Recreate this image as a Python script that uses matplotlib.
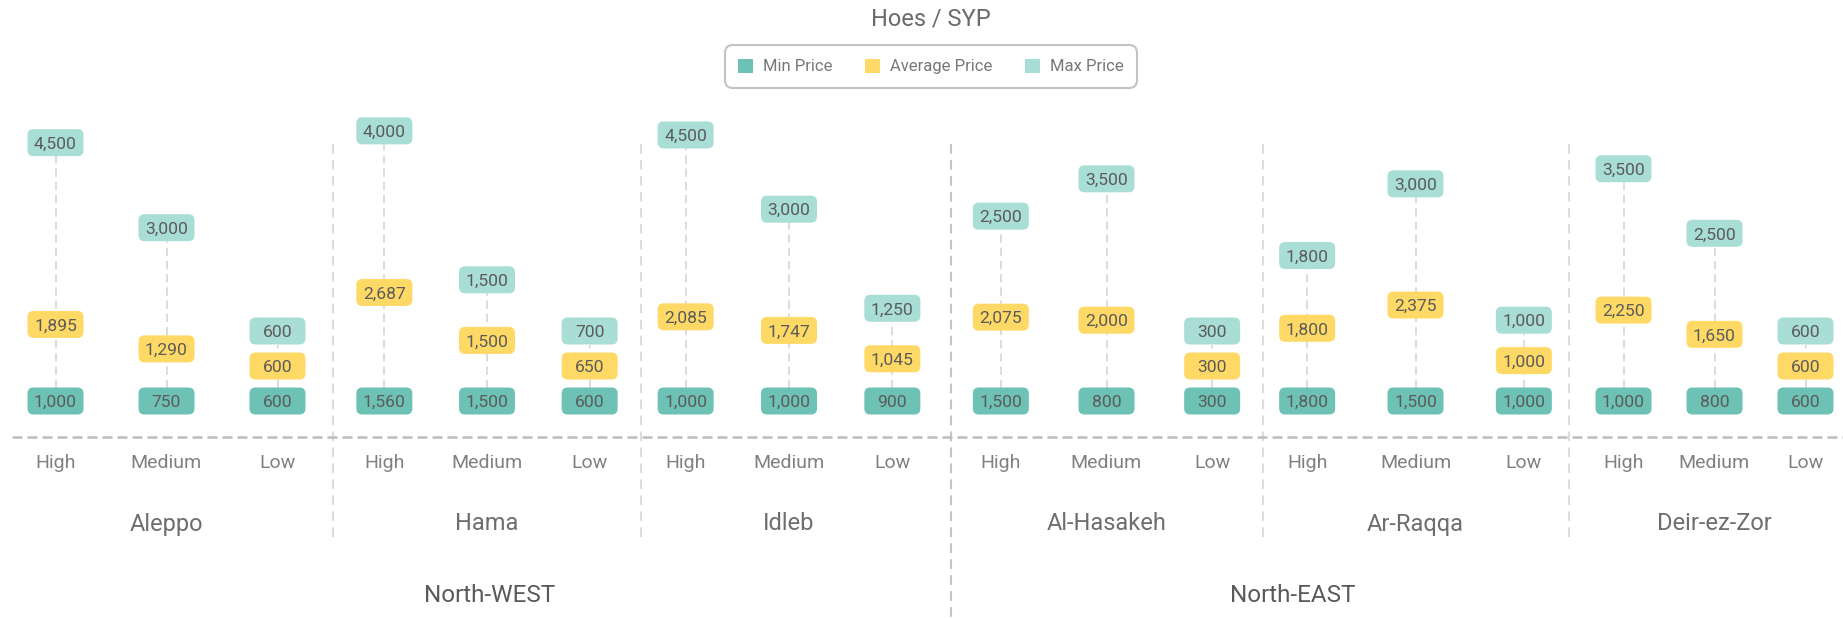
import matplotlib
matplotlib.use('Agg')
import matplotlib.pyplot as plt
from matplotlib.patches import FancyBboxPatch, Patch
from matplotlib.lines import Line2D
from matplotlib.transforms import IdentityTransform, blended_transform_factory

# ---------------- data ----------------
regions = ['Aleppo', 'Hama', 'Idleb', 'Al-Hasakeh', 'Ar-Raqqa', 'Deir-ez-Zor']
levels = ['High', 'Medium', 'Low']
zones = ['North-WEST', 'North-EAST']
min_price = [1000, 750, 600, 1560, 1500, 600, 1000, 1000, 900,
             1500, 800, 300, 1800, 1500, 1000, 1000, 800, 600]
avg_price = [1895, 1290, 600, 2687, 1500, 650, 2085, 1747, 1045,
             2075, 2000, 300, 1800, 2375, 1000, 2250, 1650, 600]
max_price = [4500, 3000, 600, 4000, 1500, 700, 4500, 3000, 1250,
             2500, 3500, 300, 1800, 3000, 1000, 3500, 2500, 600]
series_names = ['Min Price', 'Average Price', 'Max Price']

# ---------------- style ----------------
plt.rcParams['font.family'] = ['Roboto', 'DejaVu Sans']
plt.rcParams['lines.scale_dashes'] = False
C_MIN, C_AVG, C_MAX = '#6dc2b5', '#ffd966', '#a8ded5'
TXT_BOX = '#5b5b5b'

W, H = 1843, 618
fig = plt.figure(figsize=(W / 100, H / 100), dpi=100)


def fx(px):
    return px / W


def fy(py):
    return 1 - py / H


PLOT_TOP, PLOT_BOTTOM = 95, 437
YLIM = (-891, 7574)
region_edges = [(0, 333), (333, 641), (634, 944), (948, 1265), (1253, 1578), (1578, 1851)]

BOX_W, BOX_H, GAP = 56, 27, 35
ident = IdentityTransform()


def draw_box(xd, yd, color, value):
    p = FancyBboxPatch((xd - BOX_W / 2, yd - BOX_H / 2), BOX_W, BOX_H,
                       boxstyle='round,pad=0,rounding_size=6',
                       facecolor=color, edgecolor='none', transform=ident, zorder=2)
    fig.add_artist(p)
    fig.text(xd, yd - 6.1, f'{value:,}', transform=ident, ha='center', va='baseline',
             fontsize=12.6, color=TXT_BOX, zorder=3)


for k, (l, r) in enumerate(region_edges):
    ax = fig.add_axes([fx(l), fy(PLOT_BOTTOM), fx(r - l), (PLOT_BOTTOM - PLOT_TOP) / H])
    ax.set_xlim(-0.5, 2.5)
    ax.set_ylim(*YLIM)
    ax.axis('off')
    blend = blended_transform_factory(ax.transData, fig.transFigure)
    for i, lvl in enumerate(levels):
        idx = 3 * k + i
        mn, av, mx = min_price[idx], avg_price[idx], max_price[idx]
        # invisible stacked bars: average, then max on top of it
        ax.bar(i, av, width=0.5, color='none')
        ax.bar(i, mx, bottom=av, width=0.5, color='none')
        xd, ymin_d = ax.transData.transform((i, 0))
        yavg_d = ax.transData.transform((i, av))[1]
        ymax_d = ax.transData.transform((i, av + mx))[1]
        yavg_d = max(yavg_d, ymin_d + GAP)
        ymax_d = max(ymax_d, yavg_d + GAP)
        fig.add_artist(Line2D([xd, xd], [ymin_d + BOX_H / 2, ymax_d - BOX_H / 2],
                              transform=ident, color='#d9d9d9', lw=1.3,
                              linestyle=(0, (6, 3.5)), zorder=1))
        draw_box(xd, ymin_d, C_MIN, mn)
        draw_box(xd, yavg_d, C_AVG, av)
        draw_box(xd, ymax_d, C_MAX, mx)
        ax.text(i, fy(463), lvl, transform=blend, ha='center', va='center',
                fontsize=14, color='#808080')
    ax.text(1, fy(524), regions[k], transform=blend, ha='center', va='center',
            fontsize=17, color='#6e6e6e')

# zone labels
fig.text(fx(490), fy(595), zones[0], ha='center', va='center', fontsize=17.5, color='#5a5a5a')
fig.text(fx(1293), fy(595), zones[1], ha='center', va='center', fontsize=17.5, color='#5a5a5a')

# separators
for xs in [333, 641, 1263, 1569]:
    fig.add_artist(Line2D([fx(xs)] * 2, [fy(144), fy(537)], transform=fig.transFigure,
                          color='#dcdcdc', lw=1.5, linestyle=(0, (7, 4.5)), zorder=0))
fig.add_artist(Line2D([fx(951)] * 2, [fy(144), fy(618)], transform=fig.transFigure,
                      color='#c6c6c6', lw=1.5, linestyle=(0, (7, 4.5)), zorder=0))
# baseline
fig.add_artist(Line2D([fx(12), 1], [fy(437)] * 2, transform=fig.transFigure,
                      color='#bdbdbd', lw=1.8, linestyle=(0, (7.2, 3.6)), zorder=0))

# title
fig.text(fx(931), fy(19), 'Hoes / SYP', ha='center', va='center', fontsize=17, color='#6b6b6b')

# legend
handles = [Patch(facecolor=c, edgecolor='none') for c in (C_MIN, C_AVG, C_MAX)]
leg = fig.legend(handles, series_names, loc='center', bbox_to_anchor=(fx(931), fy(66.5)),
                 ncol=3, frameon=True, fontsize=12, handlelength=0.9, handleheight=0.9,
                 handletextpad=0.6, columnspacing=1.95, borderpad=0.82, labelcolor='#777777')
frame = leg.get_frame()
frame.set_edgecolor('#b5b5b5')
frame.set_linewidth(1.5)
frame.set_boxstyle('round', pad=0, rounding_size=0.5)

fig.savefig('out.png', dpi=100)
